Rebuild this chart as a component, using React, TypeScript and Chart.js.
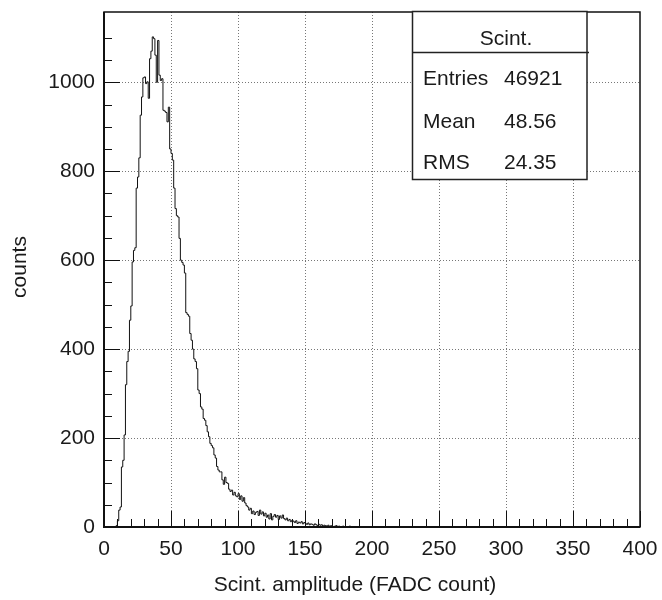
import React, { useEffect, useRef } from 'react';
import { Chart, registerables } from 'chart.js';

Chart.register(...registerables);

// ---- data ----
const xRange = [0, 400];
const yRange = [0, 1158];
const binWidth = 1;
const firstBin = 8;
const counts = [
  0, 3, 14, 38, 45, 135, 150, 207, 320, 372, // 8-17
  395, 465, 497, 596, 622, 628, 762, 787, 830, 926, // 18-27
  967, 1010, 1012, 997, 1001, 964, 1053, 1070, 1102, 1098, // 28-37
  1061, 1000, 1094, 1016, 1004, 1008, 937, 935, 932, 911, // 38-47
  944, 850, 840, 825, 762, 716, 700, 697, 649, 600, // 48-57
  595, 589, 571, 482, 478, 474, 435, 420, 400, 378, // 58-67
  372, 356, 308, 300, 270, 265, 244, 240, 228, 214, // 68-77
  203, 188, 183, 178, 162, 155, 136, 128, 124, 124, // 78-87
  106, 96, 112, 100, 98, 85, 80, 83, 72, 78, // 88-97
  70, 68, 75, 62, 70, 58, 66, 54, 48, 45, // 98-107
  38, 42, 30, 36, 28, 33, 35, 26, 38, 29, // 108-117
  34, 25, 31, 22, 27, 18, 30, 16, 24, 28, // 118-127
  22, 26, 17, 25, 20, 27, 19, 16, 20, 14, // 128-137
  17, 12, 15, 13, 10, 14, 8, 11, 9, 12, // 138-147
  7, 10, 8, 6, 9, 5, 7, 6, 4, 7, // 148-157
  5, 3, 6, 4, 5, 2, 4, 3, 2, 4, // 158-167
  1, 3, 2, 1, 2, 3, 1, 2, 0, 1, // 168-177
  2, 0, 1, 1, 0, 2, 0, 1, 0, 1, // 178-187
  1, 0, 0, 1, 0, 0, 1, 0, 0, 1, // 188-197
  0, 0, 1, 0, 0, 0, 1, 0, 0, 0, // 198-207
  0, 1, 0, 0, 0, 0, 0, 1, 0, 0, // 208-217
];

const xMajorStep = 50;
const xMinorStep = 10;
const yMajorStep = 200;
const yMinorStep = 50;
const yMinorLast = 1100;

const xTitle = 'Scint. amplitude (FADC count)';
const yTitle = 'counts';
const statsTitle = 'Scint.';
const statsLabels = ['Entries', 'Mean', 'RMS'];
const statsValues = ['46921', '48.56', '24.35'];

const FONT = '"Liberation Sans", Arial, Helvetica, sans-serif';
const FONT_SIZE = 21;
const TEXT_COLOR = '#1a1a1a';

const rootStyle = {
  id: 'rootStyle',
  beforeDatasetsDraw(chart: any) {
    const { ctx, chartArea: a, scales } = chart;
    const xs = scales.x;
    const ys = scales.y;
    ctx.save();
    ctx.strokeStyle = '#777';
    ctx.lineWidth = 1;
    ctx.setLineDash([1, 2]);
    for (let v = xRange[0] + xMajorStep; v < xRange[1]; v += xMajorStep) {
      const px = Math.round(xs.getPixelForValue(v)) + 0.5;
      ctx.beginPath();
      ctx.moveTo(px, a.top);
      ctx.lineTo(px, a.bottom);
      ctx.stroke();
    }
    for (let v = yRange[0] + yMajorStep; v < yRange[1]; v += yMajorStep) {
      const py = Math.round(ys.getPixelForValue(v)) + 0.5;
      ctx.beginPath();
      ctx.moveTo(a.left, py);
      ctx.lineTo(a.right, py);
      ctx.stroke();
    }
    ctx.restore();
  },
  afterDatasetsDraw(chart: any) {
    const { ctx, chartArea: a, scales } = chart;
    const xs = scales.x;
    const ys = scales.y;
    ctx.save();
    ctx.setLineDash([]);
    ctx.strokeStyle = '#111';
    // ticks
    ctx.lineWidth = 1;
    for (let v = xRange[0]; v <= xRange[1]; v += xMinorStep) {
      const px = Math.round(xs.getPixelForValue(v)) + 0.5;
      const len = v % xMajorStep === 0 ? 16 : 8;
      ctx.beginPath();
      ctx.moveTo(px, a.bottom);
      ctx.lineTo(px, a.bottom - len);
      ctx.stroke();
    }
    for (let v = yRange[0]; v <= yMinorLast; v += yMinorStep) {
      const py = Math.round(ys.getPixelForValue(v)) + 0.5;
      const len = v % yMajorStep === 0 ? 16 : 8;
      ctx.beginPath();
      ctx.moveTo(a.left, py);
      ctx.lineTo(a.left + len, py);
      ctx.stroke();
    }
    // frame
    ctx.lineWidth = 1.5;
    ctx.strokeRect(a.left, a.top, a.right - a.left, a.bottom - a.top);
    ctx.lineWidth = 2;
    ctx.beginPath();
    ctx.moveTo(a.left, a.top);
    ctx.lineTo(a.left, a.bottom);
    ctx.lineTo(a.right, a.bottom);
    ctx.stroke();

    // stats box
    const bx = 412.5, by = 11.5, bw = 174.5, bh = 168;
    ctx.fillStyle = '#fff';
    ctx.fillRect(bx, by, bw, bh);
    ctx.lineWidth = 1.5;
    ctx.strokeStyle = '#222';
    ctx.strokeRect(bx, by, bw, bh);
    ctx.beginPath();
    ctx.moveTo(bx, 52.5);
    ctx.lineTo(589, 52.5);
    ctx.stroke();
    ctx.fillStyle = TEXT_COLOR;
    ctx.font = `${FONT_SIZE}px ${FONT}`;
    ctx.textBaseline = 'alphabetic';
    ctx.textAlign = 'center';
    ctx.fillText(statsTitle, 506, 45);
    ctx.textAlign = 'left';
    const baselines = [85, 128, 169];
    statsLabels.forEach((l, i) => {
      ctx.fillText(l, 423, baselines[i]);
      ctx.fillText(statsValues[i], 504, baselines[i]);
    });

    // axis titles
    ctx.textAlign = 'center';
    ctx.fillText(xTitle, 355, 591);
    ctx.save();
    ctx.translate(26, 267);
    ctx.rotate(-Math.PI / 2);
    ctx.fillText(yTitle, 0, 0);
    ctx.restore();
    ctx.restore();
  },
};

export default function App() {
  const ref = useRef<HTMLCanvasElement>(null);
  useEffect(() => {
    document.body.style.margin = '0';
    const points = [
      { x: xRange[0], y: 0 },
      ...counts.map((c, i) => ({ x: firstBin + i * binWidth, y: c })),
      { x: firstBin + counts.length * binWidth, y: 0 },
      { x: xRange[1], y: 0 },
    ];
    const chart = new Chart(ref.current as HTMLCanvasElement, {
      type: 'line',
      data: {
        datasets: [
          {
            data: points,
            borderColor: '#111',
            borderWidth: 1,
            pointRadius: 0,
            fill: false,
            stepped: true,
            tension: 0,
          },
        ],
      },
      plugins: [rootStyle],
      options: {
        animation: false,
        responsive: false,
        devicePixelRatio: 1,
        layout: { padding: { top: 12, right: 22, left: 0, bottom: 0 } },
        plugins: { legend: { display: false }, tooltip: { enabled: false } },
        scales: {
          x: {
            type: 'linear',
            min: xRange[0],
            max: xRange[1],
            grid: { display: false, drawTicks: false },
            border: { display: false },
            ticks: {
              stepSize: xMajorStep,
              autoSkip: false,
              maxRotation: 0,
              padding: 10,
              color: TEXT_COLOR,
              font: { family: FONT, size: FONT_SIZE },
              callback: (v: any) => String(v),
            },
            afterFit: (s: any) => {
              s.height = 73;
              s.paddingLeft = 0;
              s.paddingRight = 0;
            },
          },
          y: {
            type: 'linear',
            min: yRange[0],
            max: yRange[1],
            grid: { display: false, drawTicks: false },
            border: { display: false },
            ticks: {
              stepSize: yMajorStep,
              includeBounds: false,
              padding: 9,
              color: TEXT_COLOR,
              font: { family: FONT, size: FONT_SIZE },
              callback: (v: any) => String(v),
            },
            afterFit: (s: any) => {
              s.width = 104;
              s.paddingTop = 0;
              s.paddingBottom = 0;
            },
          },
        },
      },
    } as any);
    return () => chart.destroy();
  }, []);
  return (
    <div style={{ position: 'absolute', left: 0, top: 0, width: 662, height: 600, background: '#fff' }}>
      <canvas ref={ref} width={662} height={600} />
    </div>
  );
}
